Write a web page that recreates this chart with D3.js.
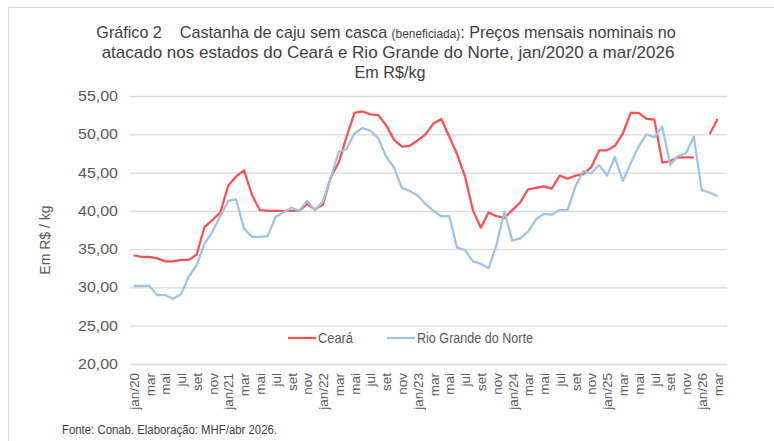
<!DOCTYPE html>
<html>
<head>
<meta charset="utf-8">
<script src="https://cdn.jsdelivr.net/npm/d3@7"></script>
<style>
  body { margin: 0; background: #fff; }
  text { font-family: "Liberation Sans", Arial, sans-serif; }
</style>
</head>
<body>
<div id="chart"></div>
<script>
// meses jan/2020 a mar/2026
const years = [2020, 2021, 2022, 2023, 2024, 2025, 2026];
const monthAbbr = ['jan', 'fev', 'mar', 'abr', 'mai', 'jun', 'jul', 'ago', 'set', 'out', 'nov', 'dez'];
const months = [];
years.forEach((y) => {
  monthAbbr.forEach((m, i) => {
    if (y < 2026 || i < 3) months.push({ year: y, month: i });
  });
});

const ceara = [
  34.2, 34.0, 34.0, 33.8, 33.4, 33.4, 33.6, 33.6, 34.3, 37.9, 38.8, 39.8,
  43.3, 44.5, 45.3, 42.1, 40.1, 40.0, 40.0, 40.0, 40.0, 40.0, 40.9, 40.2,
  40.8, 44.4, 46.3, 49.7, 52.8, 53.0, 52.6, 52.5, 51.2, 49.3, 48.4, 48.5,
  49.2, 50.0, 51.4, 52.0, 49.7, 47.4, 44.5, 40.1, 37.8, 39.8, 39.3, 39.1,
  40.1, 41.1, 42.8, 43.0, 43.2, 42.9, 44.6, 44.2, 44.6, 44.8, 45.7, 47.9,
  47.9, 48.5, 50.1, 52.8, 52.8, 52.0, 51.9, 46.3, 46.5, 47.0, 47.0, 47.0,
  null, 50.0, 52.0
];

const rioGrandeDoNorte = [
  30.2, 30.2, 30.2, 29.0, 29.0, 28.5, 29.1, 31.4, 32.9, 35.7, 37.3, 39.3,
  41.3, 41.5, 37.7, 36.6, 36.6, 36.7, 39.2, 39.8, 40.4, 40.0, 41.3, 40.1,
  41.2, 44.3, 47.7, 48.1, 50.1, 50.8, 50.5, 49.5, 47.1, 45.7, 43.0, 42.6,
  42.0, 40.9, 40.0, 39.3, 39.3, 35.2, 34.9, 33.4, 33.1, 32.5, 35.6, 39.9,
  36.1, 36.4, 37.3, 38.9, 39.6, 39.5, 40.1, 40.1, 43.2, 45.2, 44.9, 46.0,
  44.6, 47.0, 43.9, 46.2, 48.4, 50.0, 49.6, 51.0, 46.0, 47.2, 47.5, 49.7,
  42.7, 42.4, 41.9
];

const yTicks = [20, 25, 30, 35, 40, 45, 50, 55];
const seriesNames = ['Ceará', 'Rio Grande do Norte'];
const seriesColors = ['#FF4F4F', '#9DC3E6'];

const WIDTH = 774;
const HEIGHT = 441;
const MARGIN = { TOP: 96, RIGHT: 47, BOTTOM: 77, LEFT: 130 };

const svg = d3.select('#chart').append('svg').attr('width', WIDTH).attr('height', HEIGHT);

// moldura
svg.append('path')
  .attr('d', `M8.5,${HEIGHT} L8.5,7.5 L${WIDTH},7.5`)
  .attr('fill', 'none')
  .attr('stroke', '#d9d9d9')
  .attr('stroke-width', 1);

const xScale = d3.scalePoint()
  .domain(d3.range(months.length))
  .range([133.5, 717.5]);

const yScale = d3.scaleLinear()
  .domain([20, 55])
  .range([HEIGHT - MARGIN.BOTTOM, MARGIN.TOP]);

// grade horizontal
svg.append('g')
  .attr('transform', 'translate(' + MARGIN.LEFT + ',0)')
  .call(d3.axisLeft(yScale).tickValues(yTicks).tickSizeInner(-(WIDTH - MARGIN.LEFT - MARGIN.RIGHT)).tickSizeOuter(0).tickFormat(''))
  .call((g) => g.select('.domain').remove())
  .selectAll('.tick line')
  .attr('stroke', '#d9d9d9')
  .attr('stroke-width', 1.3);

// eixo y
svg.append('g')
  .attr('transform', 'translate(' + MARGIN.LEFT + ',0)')
  .call(d3.axisLeft(yScale).tickValues(yTicks).tickSize(0).tickPadding(12)
    .tickFormat((d) => d3.format('.2f')(d).replace('.', ',')))
  .call((g) => g.select('.domain').remove())
  .selectAll('text')
  .attr('fill', '#595959')
  .attr('font-size', '14px')
  .attr('textLength', 40)
  .attr('lengthAdjust', 'spacingAndGlyphs');

// eixo x
const xAxis = d3.axisBottom(xScale)
  .tickValues(d3.range(0, months.length, 2))
  .tickSize(0)
  .tickFormat((i) => {
    const m = months[i];
    return m.month === 0 ? 'jan/' + String(m.year).slice(2) : monthAbbr[m.month];
  });

svg.append('g')
  .attr('transform', 'translate(0,' + (HEIGHT - MARGIN.BOTTOM) + ')')
  .call(xAxis)
  .call((g) => g.select('.domain').remove())
  .selectAll('text')
  .attr('fill', '#595959')
  .attr('font-size', '13.5px')
  .attr('text-anchor', 'end')
  .attr('transform', 'rotate(-90)')
  .attr('x', -9)
  .attr('y', 0)
  .attr('dy', '0.35em');

// título do eixo y
svg.append('text')
  .attr('transform', 'translate(50,' + 240 + ') rotate(-90)')
  .attr('text-anchor', 'middle')
  .attr('fill', '#595959')
  .attr('font-size', '14px')
  .text('Em R$ / kg');

// linhas
const line = d3.line()
  .defined((d) => d != null)
  .x((d, i) => xScale(i))
  .y((d) => yScale(d));

[ceara, rioGrandeDoNorte].forEach((values, k) => {
  svg.append('path')
    .datum(values)
    .attr('fill', 'none')
    .attr('stroke', seriesColors[k])
    .attr('stroke-width', 2.25)
    .attr('stroke-linejoin', 'round')
    .attr('d', line);
});

// título, centrado na área do gráfico
const titleLine = (cx, y, sx) => svg.append('text')
  .attr('transform', 'translate(' + cx + ',' + y + ') scale(' + sx + ',1)')
  .attr('text-anchor', 'middle')
  .attr('fill', '#404040')
  .attr('font-size', '17px');

const t1 = titleLine(386, 38, 0.95);
t1.append('tspan').text('Gráfico 2\u00a0\u00a0\u00a0\u00a0Castanha de caju sem casca ');
t1.append('tspan').attr('font-size', '12.5px').text('(beneficiada)');
t1.append('tspan').text(': Preços mensais nominais no');
titleLine(388, 58, 1.0).text('atacado nos estados do Ceará e Rio Grande do Norte, jan/2020 a mar/2026');
titleLine(390, 78, 0.95).text('Em R$/kg');

// legenda
const legend = svg.append('g').attr('transform', 'translate(288,338)');
const legendX = [0, 99];
const legendW = [35, 116];
seriesNames.forEach((name, k) => {
  const g = legend.append('g').attr('transform', 'translate(' + legendX[k] + ',0)');
  g.append('line')
    .attr('x1', 0).attr('x2', 28)
    .attr('stroke', seriesColors[k])
    .attr('stroke-width', 2.25);
  g.append('text')
    .attr('x', 30)
    .attr('dy', '0.35em')
    .attr('fill', '#595959')
    .attr('font-size', '14px')
    .attr('textLength', legendW[k])
    .attr('lengthAdjust', 'spacingAndGlyphs')
    .text(name);
});

// fonte
svg.append('text')
  .attr('x', 62)
  .attr('y', 434)
  .attr('fill', '#404040')
  .attr('font-size', '12.5px')
  .attr('textLength', 215)
  .attr('lengthAdjust', 'spacingAndGlyphs')
  .text('Fonte: Conab. Elaboração: MHF/abr 2026.');
</script>
</body>
</html>
